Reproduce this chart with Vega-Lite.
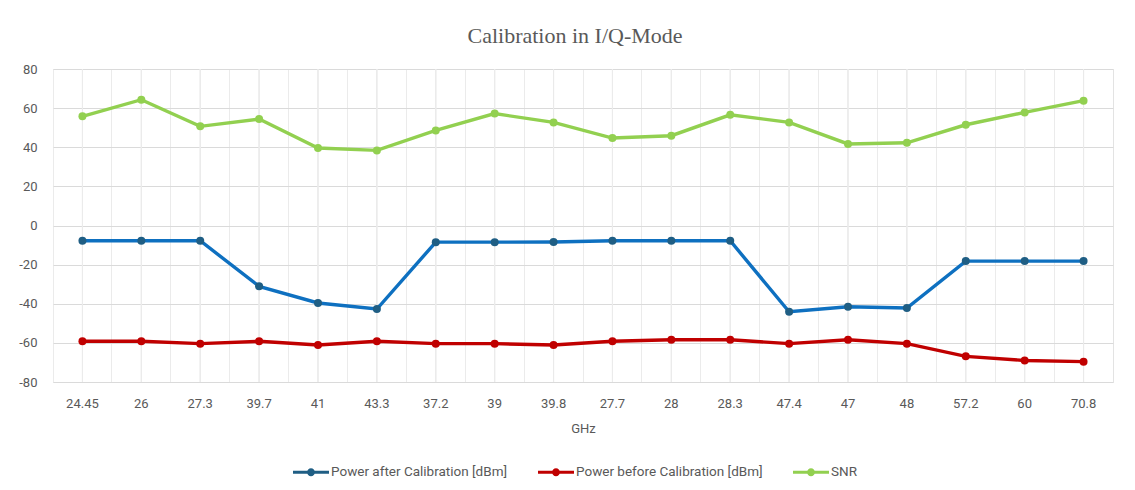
{
  "$schema": "https://vega.github.io/schema/vega-lite/v6.json",
  "autosize": "none",
  "width": 1060,
  "height": 313,
  "padding": {"left": 53, "top": 69, "right": 22, "bottom": 108},
  "background": "white",
  "title": {
    "text": "Calibration in I/Q-Mode",
    "font": "Liberation Serif",
    "fontSize": 22,
    "fontWeight": "normal",
    "color": "#595959",
    "offset": 15,
    "dx": -8
  },
  "config": {
    "view": {"stroke": "#e3e3e3", "strokeWidth": 1},
    "font": "Roboto"
  },
  "data": {
    "values": [
      {"GHz": "24.45", "idx": 0, "series": "Power after Calibration [dBm]", "value": -7.8},
      {"GHz": "26", "idx": 1, "series": "Power after Calibration [dBm]", "value": -7.8},
      {"GHz": "27.3", "idx": 2, "series": "Power after Calibration [dBm]", "value": -7.8},
      {"GHz": "39.7", "idx": 3, "series": "Power after Calibration [dBm]", "value": -31.1},
      {"GHz": "41", "idx": 4, "series": "Power after Calibration [dBm]", "value": -39.6},
      {"GHz": "43.3", "idx": 5, "series": "Power after Calibration [dBm]", "value": -42.7},
      {"GHz": "37.2", "idx": 6, "series": "Power after Calibration [dBm]", "value": -8.5},
      {"GHz": "39", "idx": 7, "series": "Power after Calibration [dBm]", "value": -8.5},
      {"GHz": "39.8", "idx": 8, "series": "Power after Calibration [dBm]", "value": -8.4},
      {"GHz": "27.7", "idx": 9, "series": "Power after Calibration [dBm]", "value": -7.8},
      {"GHz": "28", "idx": 10, "series": "Power after Calibration [dBm]", "value": -7.8},
      {"GHz": "28.3", "idx": 11, "series": "Power after Calibration [dBm]", "value": -7.8},
      {"GHz": "47.4", "idx": 12, "series": "Power after Calibration [dBm]", "value": -44.1},
      {"GHz": "47", "idx": 13, "series": "Power after Calibration [dBm]", "value": -41.5},
      {"GHz": "48", "idx": 14, "series": "Power after Calibration [dBm]", "value": -42.2},
      {"GHz": "57.2", "idx": 15, "series": "Power after Calibration [dBm]", "value": -18.2},
      {"GHz": "60", "idx": 16, "series": "Power after Calibration [dBm]", "value": -18.2},
      {"GHz": "70.8", "idx": 17, "series": "Power after Calibration [dBm]", "value": -18.2},
      {"GHz": "24.45", "idx": 0, "series": "Power before Calibration [dBm]", "value": -59.2},
      {"GHz": "26", "idx": 1, "series": "Power before Calibration [dBm]", "value": -59.2},
      {"GHz": "27.3", "idx": 2, "series": "Power before Calibration [dBm]", "value": -60.4},
      {"GHz": "39.7", "idx": 3, "series": "Power before Calibration [dBm]", "value": -59.2},
      {"GHz": "41", "idx": 4, "series": "Power before Calibration [dBm]", "value": -61.1},
      {"GHz": "43.3", "idx": 5, "series": "Power before Calibration [dBm]", "value": -59.2},
      {"GHz": "37.2", "idx": 6, "series": "Power before Calibration [dBm]", "value": -60.4},
      {"GHz": "39", "idx": 7, "series": "Power before Calibration [dBm]", "value": -60.4},
      {"GHz": "39.8", "idx": 8, "series": "Power before Calibration [dBm]", "value": -61.1},
      {"GHz": "27.7", "idx": 9, "series": "Power before Calibration [dBm]", "value": -59.2},
      {"GHz": "28", "idx": 10, "series": "Power before Calibration [dBm]", "value": -58.4},
      {"GHz": "28.3", "idx": 11, "series": "Power before Calibration [dBm]", "value": -58.4},
      {"GHz": "47.4", "idx": 12, "series": "Power before Calibration [dBm]", "value": -60.4},
      {"GHz": "47", "idx": 13, "series": "Power before Calibration [dBm]", "value": -58.4},
      {"GHz": "48", "idx": 14, "series": "Power before Calibration [dBm]", "value": -60.4},
      {"GHz": "57.2", "idx": 15, "series": "Power before Calibration [dBm]", "value": -66.9},
      {"GHz": "60", "idx": 16, "series": "Power before Calibration [dBm]", "value": -69.0},
      {"GHz": "70.8", "idx": 17, "series": "Power before Calibration [dBm]", "value": -69.6},
      {"GHz": "24.45", "idx": 0, "series": "SNR", "value": 55.8},
      {"GHz": "26", "idx": 1, "series": "SNR", "value": 64.3},
      {"GHz": "27.3", "idx": 2, "series": "SNR", "value": 50.7},
      {"GHz": "39.7", "idx": 3, "series": "SNR", "value": 54.4},
      {"GHz": "41", "idx": 4, "series": "SNR", "value": 39.6},
      {"GHz": "43.3", "idx": 5, "series": "SNR", "value": 38.4},
      {"GHz": "37.2", "idx": 6, "series": "SNR", "value": 48.6},
      {"GHz": "39", "idx": 7, "series": "SNR", "value": 57.2},
      {"GHz": "39.8", "idx": 8, "series": "SNR", "value": 52.7},
      {"GHz": "27.7", "idx": 9, "series": "SNR", "value": 44.7},
      {"GHz": "28", "idx": 10, "series": "SNR", "value": 45.9},
      {"GHz": "28.3", "idx": 11, "series": "SNR", "value": 56.6},
      {"GHz": "47.4", "idx": 12, "series": "SNR", "value": 52.7},
      {"GHz": "47", "idx": 13, "series": "SNR", "value": 41.7},
      {"GHz": "48", "idx": 14, "series": "SNR", "value": 42.3},
      {"GHz": "57.2", "idx": 15, "series": "SNR", "value": 51.5},
      {"GHz": "60", "idx": 16, "series": "SNR", "value": 57.8},
      {"GHz": "70.8", "idx": 17, "series": "SNR", "value": 63.8}
    ]
  },
  "encoding": {
    "x": {
      "field": "GHz",
      "type": "nominal",
      "sort": {"field": "idx"},
      "scale": {"type": "band", "paddingInner": 0, "paddingOuter": 0},
      "axis": {
        "title": "GHz",
        "titleFont": "Roboto",
        "titleFontSize": 13,
        "titleFontWeight": "normal",
        "titleColor": "#595959",
        "titlePadding": 12,
        "labelFont": "Roboto",
        "labelFontSize": 13,
        "labelColor": "#595959",
        "labelAngle": 0,
        "labelPadding": 15,
        "labelOverlap": false,
        "ticks": false,
        "domain": false,
        "grid": true,
        "gridColor": "#ebebeb",
        "gridWidth": 1,
        "bandPosition": 0
      }
    }
  },
  "layer": [
    {
      "mark": {"type": "rule", "color": "#ebebeb", "strokeWidth": 1},
      "encoding": {}
    },
    {
      "mark": {"type": "line", "strokeWidth": 3.4, "interpolate": "linear"},
      "encoding": {
        "y": {
          "field": "value",
          "type": "quantitative",
          "scale": {"domain": [-80, 80], "nice": false},
          "axis": {
            "title": null,
            "values": [-80, -60, -40, -20, 0, 20, 40, 60, 80],
            "tickCount": 9,
            "labelOverlap": false,
            "labelExpr": "datum.value + ''",
            "labelFont": "Roboto",
            "labelFontSize": 13,
            "labelColor": "#595959",
            "labelPadding": 16,
            "ticks": false,
            "domain": false,
            "grid": true,
            "gridColor": "#dadada",
            "gridWidth": 1
          }
        },
        "color": {
          "field": "series",
          "type": "nominal",
          "scale": {
            "domain": ["Power after Calibration [dBm]", "Power before Calibration [dBm]", "SNR"],
            "range": ["#0E70C0", "#C00000", "#92D050"]
          },
          "legend": null
        },
        "detail": {"field": "series"}
      }
    },
    {
      "mark": {"type": "rule", "color": "#c8c8c8", "strokeWidth": 1},
      "encoding": {"y": {"datum": 0, "type": "quantitative"}}
    },
    {
      "mark": {"type": "point", "filled": true, "size": 64, "opacity": 1},
      "encoding": {
        "y": {"field": "value", "type": "quantitative"},
        "color": {
          "field": "series",
          "type": "nominal",
          "scale": {
            "domain": ["Power after Calibration [dBm]", "Power before Calibration [dBm]", "SNR"],
            "range": ["#1F5E84", "#C00000", "#92D050"]
          },
          "legend": {
            "title": null,
            "orient": "none",
            "legendX": 240,
            "legendY": 385,
            "direction": "horizontal",
            "labelFont": "Roboto",
            "labelFontSize": 13.5,
            "labelColor": "#595959",
            "labelLimit": 300,
            "columnPadding": 30,
            "labelOffset": 2,
            "symbolType": "M-1,-0.085 L1,-0.085 L1,0.085 L-1,0.085 Z M-0.22,0 A0.22,0.22 0 1,1 0.22,0 A0.22,0.22 0 1,1 -0.22,0 Z",
            "symbolSize": 1296,
            "symbolStrokeWidth": 0
          }
        }
      }
    }
  ],
  "resolve": {"scale": {"color": "independent"}}
}
